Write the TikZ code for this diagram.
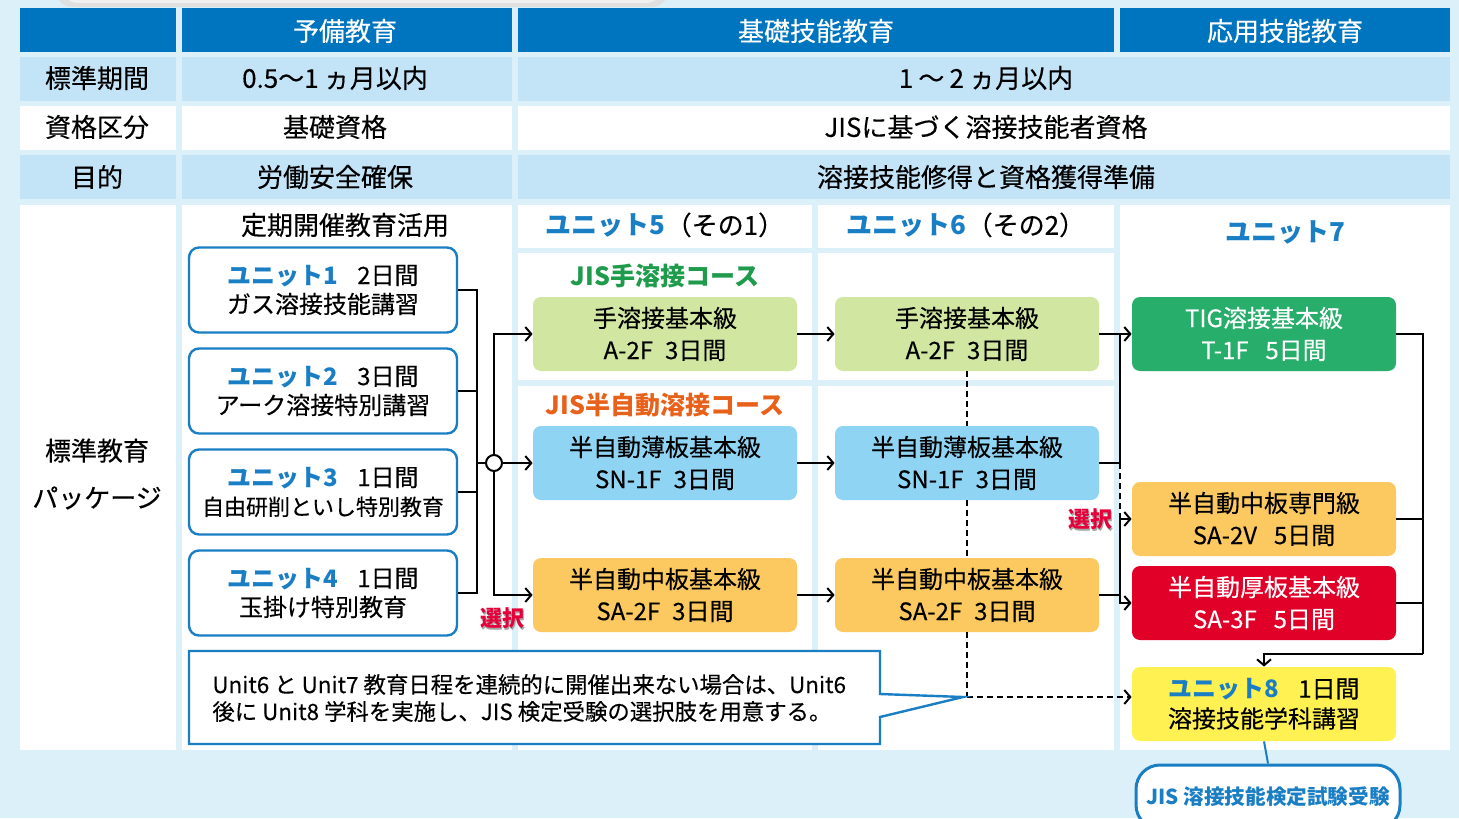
\documentclass[tikz,border=0pt]{standalone}
\usepackage{fontspec}
\setmainfont{Noto Sans CJK JP}[UprightFeatures={FakeBold=0.3}]
\usetikzlibrary{arrows.meta}

\definecolor{bgblue}{HTML}{DCF0FA}
\definecolor{headblue}{HTML}{0075BF}
\definecolor{rowblue}{HTML}{C3E3F6}
\definecolor{unitblue}{HTML}{1A7EC4}
\definecolor{jisgreen}{HTML}{1E9B4B}
\definecolor{jisorange}{HTML}{E8611A}
\definecolor{cgreen}{HTML}{D1E7A1}
\definecolor{cblue}{HTML}{8FD4F3}
\definecolor{corange}{HTML}{FBC960}
\definecolor{tiggreen}{HTML}{28AE6B}
\definecolor{thickred}{HTML}{E10028}
\definecolor{u8yellow}{HTML}{FFF152}
\definecolor{selred}{HTML}{E5003A}

\begin{document}
\begin{tikzpicture}[x=0.5pt, y=-0.5pt,
    >={Straight Barb[length=3pt,width=7pt,line width=1pt]},
    htxt/.style={inner sep=0, font=\fontsize{13}{15}\selectfont},
    unitbox/.style={draw=unitblue, line width=1.2pt, rounded corners=5pt, fill=white,
        minimum width=134pt, minimum height=42.5pt, align=center, inner sep=0,
        font=\fontsize{12}{14.5}\selectfont},
    course/.style={rounded corners=4pt, minimum width=132pt, minimum height=37pt,
        align=center, inner sep=0, font=\fontsize{12}{16}\selectfont},
    seltxt/.style={inner sep=0, text=selred, font=\bfseries\fontsize{11}{13}\selectfont},
    link/.style={line width=1pt},
    dline/.style={line width=1pt, dash pattern=on 3pt off 2pt}
    ]
    % Background
    \useasboundingbox (0,0) rectangle (1459,818);
    \clip (0,0) rectangle (1459,818);
    \fill[bgblue] (0,0) rectangle (1459,818);
    \fill[black!12, rounded corners=8pt] (56,-30) rectangle (668,7);
    \fill[black!6, rounded corners=8pt] (62,-30) rectangle (662,3);

    % Header row
    \fill[headblue] (20,8) rectangle (176,52);
    \fill[headblue] (182,8) rectangle (512,52);
    \fill[headblue] (518,8) rectangle (1114,52);
    \fill[headblue] (1120,8) rectangle (1450,52);
    \node[htxt, text=white] (h1) at (345,31) {予備教育};
    \node[htxt, text=white] (h2) at (816,31) {基礎技能教育};
    \node[htxt, text=white] (h3) at (1285,31) {応用技能教育};

    % Period, qualification, purpose rows
    \fill[rowblue] (20,57) rectangle (176,101);
    \fill[rowblue] (182,57) rectangle (512,101);
    \fill[rowblue] (518,57) rectangle (1450,101);
    \fill[white] (20,106) rectangle (176,150);
    \fill[white] (182,106) rectangle (512,150);
    \fill[white] (518,106) rectangle (1450,150);
    \fill[rowblue] (20,155) rectangle (176,199);
    \fill[rowblue] (182,155) rectangle (512,199);
    \fill[rowblue] (518,155) rectangle (1450,199);
    \node[htxt] (r1a) at (97,78) {標準期間};
    \node[htxt] (r1b) at (335,78) {0.5～1\hspace{0.2em}ヵ月以内};
    \node[htxt] (r1c) at (986,78) {1\hspace{0.2em}～\hspace{0.2em}2\hspace{0.2em}ヵ月以内};
    \node[htxt] (r2a) at (97,127) {資格区分};
    \node[htxt] (r2b) at (335,127) {基礎資格};
    \node[htxt] (r2c) at (986,127) {JISに基づく溶接技能者資格};
    \node[htxt] (r3a) at (97,177) {目的};
    \node[htxt] (r3b) at (335,177) {労働安全確保};
    \node[htxt] (r3c) at (986,177) {溶接技能修得と資格獲得準備};

    % Package cells
    \fill[white] (20,205) rectangle (176,750);
    \fill[white] (182,205) rectangle (512,750);
    \fill[white] (518,205) rectangle (812,248);
    \fill[white] (818,205) rectangle (1114,248);
    \fill[white] (518,253) rectangle (812,380);
    \fill[white] (818,253) rectangle (1114,380);
    \fill[white] (518,386) rectangle (812,750);
    \fill[white] (818,386) rectangle (1114,750);
    \fill[white] (1120,205) rectangle (1450,750);
    \node[htxt, align=center, font=\fontsize{13}{23.5}\selectfont] (pkg) at (97,474) {標準教育\\パッケージ};
    \node[htxt] (reg) at (345,225) {定期開催教育活用};
    \node[htxt] (u5h) at (665,225) {\textcolor{unitblue}{\bfseries ユニット5}（その1）};
    \node[htxt] (u6h) at (966,225) {\textcolor{unitblue}{\bfseries ユニット6}（その2）};
    \node[htxt, text=unitblue, font=\bfseries\fontsize{13}{15}\selectfont] (u7h) at (1285,232) {ユニット7};
    \node[htxt, text=jisgreen, font=\bfseries\fontsize{12.5}{15}\selectfont] (jis1) at (665,276) {JIS手溶接コース};
    \node[htxt, text=jisorange, font=\bfseries\fontsize{12.5}{15}\selectfont] (jis2) at (665,405) {JIS半自動溶接コース};

    % Units 1-4
    \node[unitbox] (u1) at (323,290) {\textcolor{unitblue}{\bfseries ユニット1}\hspace{0.8em}2日間\\ガス溶接技能講習};
    \node[unitbox] (u2) at (323,391) {\textcolor{unitblue}{\bfseries ユニット2}\hspace{0.8em}3日間\\アーク溶接特別講習};
    \node[unitbox] (u3) at (323,492) {\textcolor{unitblue}{\bfseries ユニット3}\hspace{0.8em}1日間\\{\fontsize{11}{14.5}\selectfont 自由研削といし特別教育}};
    \node[unitbox] (u4) at (323,593) {\textcolor{unitblue}{\bfseries ユニット4}\hspace{0.8em}1日間\\玉掛け特別教育};

    % Unit 5 and 6 courses
    \node[course, fill=cgreen] (a5) at (665,334) {手溶接基本級\\A-2F\hspace{0.5em}3日間};
    \node[course, fill=cblue] (sn5) at (665,463) {半自動薄板基本級\\SN-1F\hspace{0.5em}3日間};
    \node[course, fill=corange] (sa5) at (665,595) {半自動中板基本級\\SA-2F\hspace{0.5em}3日間};
    \node[course, fill=cgreen] (a6) at (967,334) {手溶接基本級\\A-2F\hspace{0.5em}3日間};
    \node[course, fill=cblue] (sn6) at (967,463) {半自動薄板基本級\\SN-1F\hspace{0.5em}3日間};
    \node[course, fill=corange] (sa6) at (967,595) {半自動中板基本級\\SA-2F\hspace{0.5em}3日間};

    % Unit 7 and 8
    \node[course, fill=tiggreen, text=white] (tig) at (1264,334) {TIG溶接基本級\\T-1F\hspace{0.7em}5日間};
    \node[course, fill=corange] (sav) at (1264,519) {半自動中板専門級\\SA-2V\hspace{0.7em}5日間};
    \node[course, fill=thickred, text=white] (sa3) at (1264,603) {半自動厚板基本級\\SA-3F\hspace{0.7em}5日間};
    \node[course, fill=u8yellow, font=\fontsize{12}{15}\selectfont] (u8) at (1264,704) {\textcolor{unitblue}{\bfseries ユニット8}\hspace{0.8em}1日間\\溶接技能学科講習};
    \node[draw=unitblue, line width=1.5pt, rounded corners=12pt, fill=white, minimum width=132pt,
        minimum height=32pt, inner sep=0, text=unitblue, font=\bfseries\fontsize{10.3}{12}\selectfont]
        (exam) at (1268,797) {JIS 溶接技能検定試験受験};
    \draw[unitblue, line width=1pt] (u8.south) -- (exam.north);

    % Units 1-4 to the junction
    \coordinate (bk) at (477,463);
    \node[circle, draw, line width=1pt, fill=white, minimum size=8pt, inner sep=0] (jn) at (494,463) {};
    \draw[link] (u1.east) -| (bk);
    \draw[link] (u2.east) -| (bk);
    \draw[link] (u3.east) -| (bk);
    \draw[link] (u4.east) -| (bk);
    \draw[link] (bk) -- (jn.west);
    \draw[link, ->] (jn.north) |- (a5.west);
    \draw[link, ->] (jn.east) -- (sn5.west);
    \draw[link, ->] (jn.south) |- (sa5.west);
    \node[seltxt, text=black!35] at (503.5,620) {選択};
    \node[seltxt] (sel1) at (502,618) {選択};

    % Unit 5 to unit 6
    \draw[link, ->] (a5) -- (a6);
    \draw[link, ->] (sn5) -- (sn6);
    \draw[link, ->] (sa5) -- (sa6);

    % Unit 6 to unit 7
    \coordinate (ra) at (1120,334);
    \coordinate (rs) at (1120,463);
    \coordinate (rb) at (1120,519);
    \coordinate (rc) at (1120,603);
    \draw[link, ->] (a6) -- (tig);
    \draw[link] (ra) -- (rs);
    \draw[link] (sn6.east) -- (rs);
    \draw[dline] (rs) -- (rb);
    \draw[link, ->] (rb) -- (sav.west);
    \draw[link] (rb) -- (rc);
    \draw[link, ->] (sa6.east) -| (rc) -- (sa3.west);
    \node[seltxt, text=black!35] at (1091.5,521) {選択};
    \node[seltxt] (sel2) at (1090,519) {選択};

    % Unit 7 to unit 8
    \coordinate (rm) at (1423,654);
    \draw[link] (tig.east) -| (rm);
    \draw[link] (sav.east) -| (rm);
    \draw[link] (sa3.east) -| (rm);
    \draw[link, ->] (rm) -| (u8.north);

    % Unit 6 straight to unit 8
    \coordinate (tip) at (967,697);
    \draw[dline] (a6.south) -- (sn6.north);
    \draw[dline] (sn6.south) -- (sa6.north);
    \draw[dline] (sa6.south) -- (tip);
    \draw[dline, ->] (tip) -- ([yshift=3.5pt]u8.west);

    % Note
    \coordinate (ctip) at (963,697);
    \filldraw[fill=white, draw=unitblue, line width=1.2pt] (189,651) -- (880,651) -- (880,694)
        -- (ctip) -- (880,717) -- (880,744) -- (189,744) -- cycle;
    \node[inner sep=0, anchor=west, align=left, font=\fontsize{11.2}{13.5}\selectfont] (note) at (212,698)
        {Unit6 と Unit7 教育日程を連続的に開催出来ない場合は、Unit6\\後に Unit8 学科を実施し、JIS 検定受験の選択肢を用意する。};
\end{tikzpicture}
\end{document}
